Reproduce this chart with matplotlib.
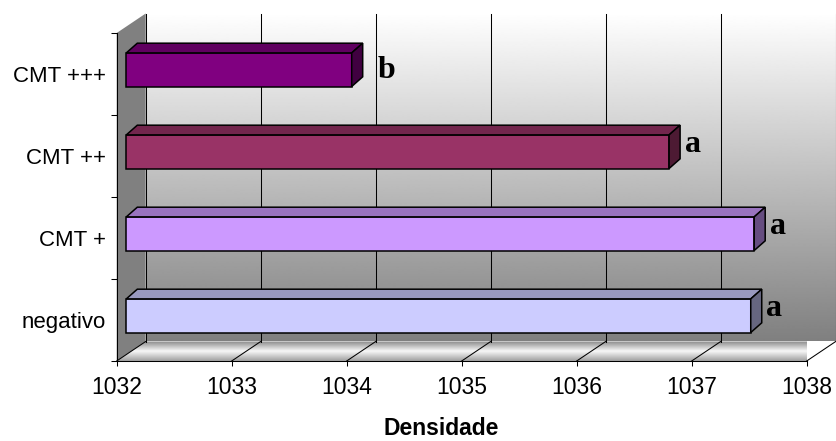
import numpy as np
import matplotlib.pyplot as plt
from matplotlib.patches import Polygon
from matplotlib.transforms import IdentityTransform, ScaledTranslation
from matplotlib.colors import LinearSegmentedColormap, to_rgb

# --- dados ---
categorias = ['negativo', 'CMT +', 'CMT ++', 'CMT +++']
densidade = [1037.43, 1037.46, 1036.72, 1033.96]
letras = ['a', 'a', 'a', 'b']
cores = ['#CCCCFF', '#CC99FF', '#993366', '#800080']
x_ticks = [1032, 1033, 1034, 1035, 1036, 1037, 1038]
x_min, x_max = 1032, 1038

plt.rcParams['font.family'] = ['Liberation Sans', 'DejaVu Sans']

W, H = 837, 441
fig = plt.figure(figsize=(W / 100, H / 100), dpi=100)
fig.patch.set_facecolor('white')

# eixo = plano frontal do grafico 3D
ax = fig.add_axes([116.7 / W, 80 / H, 690 / W, 328 / H])
ax.set_xlim(x_min, x_max)
ax.set_ylim(-0.5, len(categorias) - 0.5)
ax.patch.set_visible(False)

# deslocamentos de profundidade (pixels, y para cima)
PAREDE = (29.0, 19.5)
FRENTE_BARRA = (9.6, 4.3)
PROF_BARRA = (11.0, 9.7)
ALTURA = 0.41

y_baixo = -0.5
y_topo = len(categorias) - 0.5


def proj(x, y, dx=0.0, dy=0.0):
    px, py = ax.transData.transform((x, y))
    return (px + dx, py + dy)


ident = IdentityTransform()

# parede do fundo com degradê branco -> cinza
p0 = proj(x_min, y_baixo, *PAREDE)
p1 = proj(x_max, y_topo, *PAREDE)
grad = np.linspace(0.5, 1.0, 256)[:, None]
ax.imshow(grad, cmap='gray', vmin=0, vmax=1, origin='lower', aspect='auto',
          extent=(p0[0], p1[0], p0[1], p1[1]), transform=ident,
          interpolation='bilinear', zorder=0, clip_on=False)

# chao com degradê
chao_pts = [proj(x_min, y_baixo), proj(x_max, y_baixo),
            proj(x_max, y_baixo, *PAREDE), proj(x_min, y_baixo, *PAREDE)]
chao = Polygon(chao_pts, closed=True, transform=ident, facecolor='none',
               edgecolor='none', clip_on=False)
ax.add_patch(chao)
cmap_chao = LinearSegmentedColormap.from_list(
    'chao', [(0.0, '#a0a0a0'), (0.5, '#f8f8f8'), (1.0, '#8a8a8a')])
xs = [p[0] for p in chao_pts]
ys = [p[1] for p in chao_pts]
img = ax.imshow(np.linspace(0, 1, 64)[:, None], cmap=cmap_chao, origin='lower',
                aspect='auto', extent=(min(xs), max(xs), min(ys), max(ys)),
                transform=ident, interpolation='bilinear', zorder=1)
img.set_clip_box(None)
img.set_clip_path(chao)

# parede lateral esquerda
lateral = Polygon([proj(x_min, y_baixo), proj(x_min, y_topo),
                   proj(x_min, y_topo, *PAREDE), proj(x_min, y_baixo, *PAREDE)],
                  closed=True, transform=ident, facecolor='#808080',
                  edgecolor='none', zorder=1, clip_on=False)
ax.add_patch(lateral)

# linhas de grade na parede do fundo e no chao
for xv in x_ticks:
    a = proj(xv, y_baixo, *PAREDE)
    b = proj(xv, y_topo, *PAREDE)
    c = proj(xv, y_baixo)
    ax.plot([a[0], b[0]], [a[1], b[1]], color='black', lw=0.75,
            transform=ident, zorder=1.5, clip_on=False)
    ax.plot([c[0], a[0]], [c[1], a[1]], color='black', lw=0.75,
            transform=ident, zorder=2, clip_on=False)
# borda frontal do chao ate o canto direito
fr = proj(x_max, y_baixo)
ax.plot([proj(x_min, y_baixo)[0], fr[0]], [fr[1], fr[1]], color='black',
        lw=0.75, transform=ident, zorder=2, clip_on=False)

# barras: face frontal
pos = np.arange(len(categorias))
barras = ax.barh(pos, [v - x_min for v in densidade], left=x_min, height=ALTURA,
                 color=cores, edgecolor='black', linewidth=1.1, zorder=3)
desloc = ScaledTranslation(FRENTE_BARRA[0] / 100, FRENTE_BARRA[1] / 100,
                           fig.dpi_scale_trans)
for r in barras:
    r.set_transform(ax.transData + desloc)
    r.set_clip_on(False)

# barras: faces de cima e lateral
fx, fy = FRENTE_BARRA
bx, by = fx + PROF_BARRA[0], fy + PROF_BARRA[1]
for yc, v, cor in zip(pos, densidade, cores):
    rgb = np.array(to_rgb(cor))
    ys_, yi_ = yc + ALTURA / 2, yc - ALTURA / 2
    topo = Polygon([proj(x_min, ys_, fx, fy), proj(v, ys_, fx, fy),
                    proj(v, ys_, bx, by), proj(x_min, ys_, bx, by)],
                   closed=True, transform=ident, facecolor=rgb * 0.75,
                   edgecolor='black', linewidth=1.1, zorder=3, clip_on=False,
                   joinstyle='miter')
    lado = Polygon([proj(v, yi_, fx, fy), proj(v, ys_, fx, fy),
                    proj(v, ys_, bx, by), proj(v, yi_, bx, by)],
                   closed=True, transform=ident, facecolor=rgb * 0.5,
                   edgecolor='black', linewidth=1.1, zorder=3, clip_on=False,
                   joinstyle='miter')
    ax.add_patch(topo)
    ax.add_patch(lado)

# letras de significancia
for yc, v, letra in zip(pos, densidade, letras):
    if letra == 'b':
        dx, dy = fx + 26.0, fy - 8.0
    else:
        dx, dy = fx + 15.5, fy
    ax.annotate(letra, xy=(v, yc), xytext=(dx * 0.72, dy * 0.72),
                textcoords='offset points', ha='left', va='baseline',
                fontsize=23, fontweight='bold', family='Liberation Serif',
                zorder=5, annotation_clip=False)

# eixos
for s in ['top', 'right']:
    ax.spines[s].set_visible(False)
ax.spines['left'].set_linewidth(0.75)
ax.spines['left'].set_zorder(2.5)
ax.spines['bottom'].set_visible(False)

ax.set_xticks(x_ticks)
ax.set_xticklabels([str(t) for t in x_ticks], fontsize=16.5)
ax.tick_params(axis='x', direction='out', length=3.6, width=0.75, pad=7.5)

ax.set_yticks(np.arange(len(categorias) + 1) - 0.5)
ax.set_yticklabels([])
ax.set_yticks(pos, minor=True)
ax.set_yticklabels(categorias, minor=True, fontsize=16)
ax.tick_params(axis='y', which='major', direction='out', length=4.3, width=0.75)
ax.tick_params(axis='y', which='minor', length=0, pad=7.7)

fig.text(441 / W, 1.0 / H, 'Densidade', ha='center', va='bottom',
         fontsize=16.5, fontweight='bold')

fig.savefig('out.png', dpi=100)
